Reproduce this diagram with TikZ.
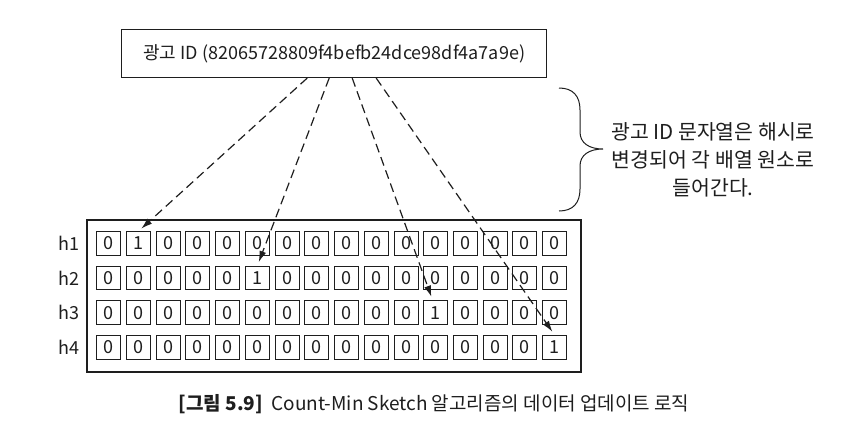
\documentclass[tikz,border=0pt]{standalone}
\usepackage{fontspec}
\setmainfont{Noto Sans CJK KR}
\usetikzlibrary{arrows.meta}
\definecolor{ink}{HTML}{1E1E1E}
\newcommand\myfs[1]{\fontsize{#1}{#1}\selectfont}
\begin{document}
\begin{tikzpicture}[x=1pt,y=-1pt,
  every node/.style={text=ink},
  boxed/.style={draw=ink,line width=1.2pt,inner sep=0pt},
  cell/.style={draw=ink,line width=1pt,minimum width=24pt,minimum height=23.5pt,inner sep=0pt,font=\myfs{18}},
  rowlabel/.style={font=\myfs{18},inner sep=0pt},
  conn/.style={draw=ink,line width=1.2pt,dash pattern=on 9pt off 5pt,shorten >=4pt,-{Latex[length=11pt,width=7pt]}},
  bracepath/.style={draw=ink,line width=1pt}]
\useasboundingbox (0,0) rectangle (866,440);
\fill[white] (0,0) rectangle (866,440);
% top box
\node[boxed,minimum width=425pt,minimum height=48pt,font=\myfs{18}] (top) at (334.2,53.5) {광고 ID (82065728809f4befb24dce98df4a7a9e)};
% array frame
\node[boxed,minimum width=494pt,minimum height=152pt] (frame) at (334,296) {};
% row labels
\foreach \r/\y in {1/243.5,2/278,3/312.7,4/347.3}{
  \node[rowlabel] (h\r) at (69,\y) {h\r};
}
% cells
\foreach \r/\y/\one in {1/243.5/1,2/278/5,3/312.7/11,4/347.3/15}{
  \foreach \i in {0,...,15}{
    \pgfmathtruncatemacro{\v}{\i==\one ? 1 : 0}
    \node[cell] (c-\r-\i) at ({108.7+\i*29.73},\y) {\v};
  }
}
% connectors
\draw[conn] ([xshift=-27pt]top.south) -- (c-1-1.north);
\draw[conn] ([xshift=-5pt]top.south) -- (c-2-5.north);
\draw[conn] ([xshift=18pt]top.south) -- ([xshift=-3pt]c-3-11.north);
\draw[conn] ([xshift=42pt]top.south) -- (c-4-15.north);
% brace
\draw[bracepath] (559,88) .. controls (573,88) and (580,96) .. (580,110)
  -- (580,132) .. controls (580,143) and (589,149) .. (603,149)
  .. controls (589,149) and (580,155) .. (580,166)
  -- (580,189) .. controls (580,203) and (573,211) .. (559,211);
\node[align=center,font=\fontsize{20.5}{28}\selectfont,inner sep=0pt] (note) at (713,160) {광고 ID 문자열은 해시로\\변경되어 각 배열 원소로\\들어간다.};
% caption
\node[font=\myfs{19},inner sep=0pt] (cap) at (434,404) {{\bfseries [그림 5.9]}\ \ Count-Min Sketch 알고리즘의 데이터 업데이트 로직};
\end{tikzpicture}
\end{document}
